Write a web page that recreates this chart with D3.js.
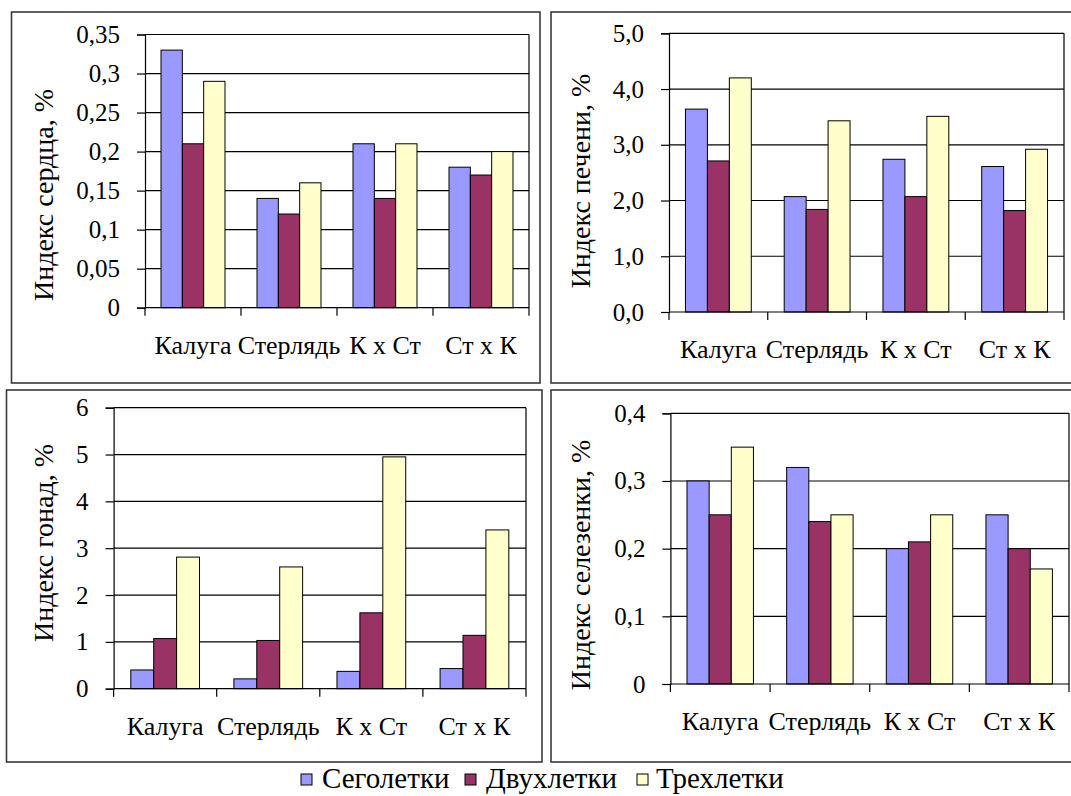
<!DOCTYPE html>
<html>
<head>
<meta charset="utf-8">
<script src="https://cdn.jsdelivr.net/npm/d3@7"></script>
<style>
  body { margin: 0; background: #fff; }
  svg text { font-family: "Liberation Serif", "Liberation Sans", Arial, sans-serif; fill: #000; }
</style>
</head>
<body>
<script>
// categories and series
var categories = ["Калуга", "Стерлядь", "К х Ст", "Ст х К"];
var seriesNames = ["Сеголетки", "Двухлетки", "Трехлетки"];
var colors = ["#9999ff", "#993366", "#ffffcc"];

// heart index
var heartSeg = [0.33, 0.14, 0.21, 0.18];
var heartDvu = [0.21, 0.12, 0.14, 0.17];
var heartTre = [0.29, 0.16, 0.21, 0.20];
var heartTicks = ["0", "0,05", "0,1", "0,15", "0,2", "0,25", "0,3", "0,35"];

// liver index
var liverSeg = [3.64, 2.07, 2.74, 2.61];
var liverDvu = [2.71, 1.84, 2.07, 1.82];
var liverTre = [4.20, 3.43, 3.51, 2.92];
var liverTicks = ["0,0", "1,0", "2,0", "3,0", "4,0", "5,0"];

// gonad index
var gonadSeg = [0.40, 0.21, 0.37, 0.43];
var gonadDvu = [1.07, 1.03, 1.62, 1.14];
var gonadTre = [2.81, 2.60, 4.95, 3.39];
var gonadTicks = ["0", "1", "2", "3", "4", "5", "6"];

// spleen index
var spleenSeg = [0.30, 0.32, 0.20, 0.25];
var spleenDvu = [0.25, 0.24, 0.21, 0.20];
var spleenTre = [0.35, 0.25, 0.25, 0.17];
var spleenTicks = ["0", "0,1", "0,2", "0,3", "0,4"];

w = 1071;
h = 796;

var svg = d3.select("body")
  .append("svg")
    .attr("width", w)
    .attr("height", h);

drawPanel({frame: [11.5, 12, 540, 383], plot: [145, 34.5, 529, 307.7], title: [43, 195]},
  "Индекс сердца, %", [heartSeg, heartDvu, heartTre], heartTicks);
drawPanel({frame: [551, 12, 1080, 383], plot: [669, 33.3, 1064, 312], title: [580, 181]},
  "Индекс печени, %", [liverSeg, liverDvu, liverTre], liverTicks);
drawPanel({frame: [6.5, 390, 542, 762], plot: [113.6, 407.7, 526, 688.7], title: [43, 543]},
  "Индекс гонад, %", [gonadSeg, gonadDvu, gonadTre], gonadTicks);
drawPanel({frame: [551, 390, 1080, 762], plot: [670.4, 413.3, 1069, 684], title: [580, 565]},
  "Индекс селезенки, %", [spleenSeg, spleenDvu, spleenTre], spleenTicks);

drawLegend();

function drawPanel(box, title, series, tickLabels) {
  var f = box.frame, p = box.plot;

  // outer frame
  svg.append("rect")
    .attr("x", f[0]).attr("y", f[1])
    .attr("width", f[2] - f[0]).attr("height", f[3] - f[1])
    .attr("fill", "none")
    .attr("stroke", "#3a3a3a")
    .attr("stroke-width", 1.6);

  var tickValues = tickLabels.map(function(t) { return +t.replace(",", "."); });

  var x0 = d3.scaleBand()
    .domain(categories)
    .range([p[0], p[2]]);

  var x1 = d3.scaleBand()
    .domain(d3.range(series.length))
    .range([0, x0.bandwidth()])
    .paddingInner(0)
    .paddingOuter(0.75);

  var y = d3.scaleLinear()
    .domain([0, d3.max(tickValues)])
    .range([p[3], p[1]]);

  var g = svg.append("g");

  // gridlines
  g.append("g")
    .selectAll("line")
    .data(tickValues.slice(1))
    .enter().append("line")
      .attr("x1", p[0]).attr("x2", p[2])
      .attr("y1", function(d) { return y(d); })
      .attr("y2", function(d) { return y(d); })
      .attr("stroke", "#000")
      .attr("stroke-width", 1.2);

  // right border of plot area
  g.append("line")
    .attr("x1", p[2]).attr("x2", p[2])
    .attr("y1", p[1]).attr("y2", p[3])
    .attr("stroke", "#000")
    .attr("stroke-width", 1.2);

  // bars
  series.forEach(function(vals, si) {
    g.append("g")
      .selectAll("rect")
      .data(vals)
      .enter().append("rect")
        .attr("x", function(d, i) { return x0(categories[i]) + x1(si); })
        .attr("y", function(d) { return y(d); })
        .attr("width", x1.bandwidth())
        .attr("height", function(d) { return y(0) - y(d); })
        .attr("fill", colors[si])
        .attr("stroke", "#000")
        .attr("stroke-width", 1);
  });

  // y axis
  var yAxis = d3.axisLeft(y)
    .tickValues(tickValues)
    .tickFormat(function(d, i) { return tickLabels[i]; })
    .tickSize(8)
    .tickPadding(17);

  var ya = g.append("g")
    .attr("transform", "translate(" + p[0] + ",0)")
    .call(yAxis)
    .attr("font-family", null);
  ya.select(".domain").attr("stroke", "#000").attr("stroke-width", 1.2);
  ya.selectAll(".tick line").attr("stroke", "#000").attr("stroke-width", 1.2);
  ya.selectAll("text")
    .attr("font-size", 25)
    .attr("fill", "#000");

  // x axis with ticks at category boundaries
  var xa = g.append("g");
  xa.append("line")
    .attr("x1", p[0]).attr("x2", p[2])
    .attr("y1", p[3]).attr("y2", p[3])
    .attr("stroke", "#000")
    .attr("stroke-width", 1.2);
  var bounds = categories.map(function(c) { return x0(c); }).concat([p[2]]);
  xa.selectAll(".bt")
    .data(bounds)
    .enter().append("line")
      .attr("x1", function(d) { return d; })
      .attr("x2", function(d) { return d; })
      .attr("y1", p[3]).attr("y2", p[3] + 8)
      .attr("stroke", "#000")
      .attr("stroke-width", 1.2);
  xa.selectAll(".cl")
    .data(categories)
    .enter().append("text")
      .attr("x", function(d) { return x0(d) + x0.bandwidth() / 2; })
      .attr("y", p[3] + 46)
      .attr("text-anchor", "middle")
      .attr("font-size", 26)
      .text(function(d) { return d; });

  // axis title
  svg.append("text")
    .attr("transform", "translate(" + box.title[0] + "," + box.title[1] + ") rotate(-90)")
    .attr("text-anchor", "middle")
    .attr("dy", "0.35em")
    .attr("font-size", 28)
    .text(title);
}

function drawLegend() {
  var boxX = [301, 465, 637];
  var textX = [322, 486, 656];
  var lg = svg.append("g");
  seriesNames.forEach(function(name, i) {
    lg.append("rect")
      .attr("x", boxX[i]).attr("y", 774)
      .attr("width", 11).attr("height", 11)
      .attr("fill", colors[i])
      .attr("stroke", "#000")
      .attr("stroke-width", 1);
    lg.append("text")
      .attr("x", textX[i])
      .attr("y", 788)
      .attr("font-size", 29)
      .text(name);
  });
}
</script>
</body>
</html>
